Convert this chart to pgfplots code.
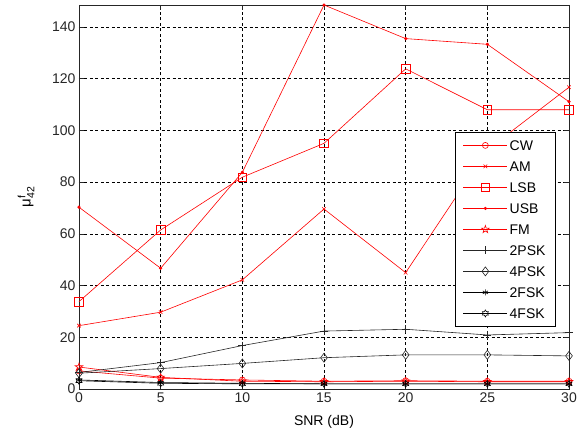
\documentclass[border=0pt]{standalone}
\usepackage{pgfplots}
\pgfplotsset{compat=1.18}
\usepackage{fontspec}
\setmainfont{Liberation Sans}

% outline five-point star
\pgfdeclareplotmark{pentagram}{%
  \pgfpathmoveto{\pgfpointpolar{90}{\pgfplotmarksize}}%
  \pgfpathlineto{\pgfpointpolar{126}{0.382\pgfplotmarksize}}%
  \pgfpathlineto{\pgfpointpolar{162}{\pgfplotmarksize}}%
  \pgfpathlineto{\pgfpointpolar{198}{0.382\pgfplotmarksize}}%
  \pgfpathlineto{\pgfpointpolar{234}{\pgfplotmarksize}}%
  \pgfpathlineto{\pgfpointpolar{270}{0.382\pgfplotmarksize}}%
  \pgfpathlineto{\pgfpointpolar{306}{\pgfplotmarksize}}%
  \pgfpathlineto{\pgfpointpolar{342}{0.382\pgfplotmarksize}}%
  \pgfpathlineto{\pgfpointpolar{18}{\pgfplotmarksize}}%
  \pgfpathlineto{\pgfpointpolar{54}{0.382\pgfplotmarksize}}%
  \pgfpathclose\pgfusepathqstroke}
% outline six-point star
\pgfdeclareplotmark{hexagram}{%
  \pgfpathmoveto{\pgfpointpolar{90}{\pgfplotmarksize}}%
  \pgfpathlineto{\pgfpointpolar{120}{0.577\pgfplotmarksize}}%
  \pgfpathlineto{\pgfpointpolar{150}{\pgfplotmarksize}}%
  \pgfpathlineto{\pgfpointpolar{180}{0.577\pgfplotmarksize}}%
  \pgfpathlineto{\pgfpointpolar{210}{\pgfplotmarksize}}%
  \pgfpathlineto{\pgfpointpolar{240}{0.577\pgfplotmarksize}}%
  \pgfpathlineto{\pgfpointpolar{270}{\pgfplotmarksize}}%
  \pgfpathlineto{\pgfpointpolar{300}{0.577\pgfplotmarksize}}%
  \pgfpathlineto{\pgfpointpolar{330}{\pgfplotmarksize}}%
  \pgfpathlineto{\pgfpointpolar{0}{0.577\pgfplotmarksize}}%
  \pgfpathlineto{\pgfpointpolar{30}{\pgfplotmarksize}}%
  \pgfpathlineto{\pgfpointpolar{60}{0.577\pgfplotmarksize}}%
  \pgfpathclose\pgfusepathqstroke}

\begin{document}
\begin{tikzpicture}
\begin{axis}[
  name=ax,
  scale only axis,
  width=490pt, height=384pt,
  xmin=0, xmax=30, ymin=0, ymax=148.5,
  xtick={0,5,...,30},
  ytick={0,20,...,140},
  tick align=inside,
  tick pos=both,
  major tick length=5pt,
  grid=major,
  major grid style={black, line width=0.5pt, dash pattern=on 3pt off 2.5pt},
  axis line style={black!85, line width=0.6pt},
  tick style={black!85, line width=0.6pt},
  ticklabel style={font=\fontsize{14}{16}\selectfont, text=black!85},
  /pgf/number format/assume math mode=true,
  xlabel={SNR (dB)},
  xlabel style={font=\fontsize{14}{16}\selectfont, at={(axis description cs:0.5,-0.085)}, anchor=center},
  ylabel={μ$^{\mathrm{f}}_{\mathrm{42}}$},
  ylabel style={font=\fontsize{15}{17}\selectfont, at={(axis description cs:-0.108,0.5)}, anchor=center},
  clip=false,
  every axis plot/.append style={line width=0.6pt},
  legend cell align=left,
  legend image code/.code={\draw[mark repeat=2,mark phase=2] plot coordinates {(0pt,0pt) (22pt,0pt) (44pt,0pt)};},
  legend style={at={(0.973,0.669)}, anchor=north east, draw=black, line width=0.6pt, fill=white,
    font=\fontsize{14}{16}\selectfont, row sep=7pt, inner xsep=8pt, inner ysep=6pt,
    nodes={text height=10pt, text depth=0pt, inner sep=2pt}},
]
\addplot[red, mark=o, mark size=3pt] coordinates {(0,7.0) (5,4.2) (10,3.5) (15,3.0) (20,3.2) (25,3.0) (30,3.0)};
\addlegendentry{CW}
\addplot[red, mark=x, mark size=2.5pt] coordinates {(0,24.5) (5,29.7) (10,42.2) (15,69.6) (20,45.0) (25,92.5) (30,116.7)};
\addlegendentry{AM}
\addplot[red, mark=square, mark size=4.3pt] coordinates {(0,33.8) (5,61.5) (10,81.9) (15,95.0) (20,123.8) (25,108.0) (30,108.0)};
\addlegendentry{LSB}
\addplot[red, mark=*, mark size=1.3pt] coordinates {(0,70.3) (5,46.7) (10,83.8) (15,148.5) (20,135.5) (25,133.3) (30,111.1)};
\addlegendentry{USB}
\addplot[red, mark=pentagram, mark size=4pt] coordinates {(0,8.5) (5,4.5) (10,3.0) (15,2.8) (20,3.0) (25,2.8) (30,2.8)};
\addlegendentry{FM}
\addplot[black!85, mark=+, mark size=4pt] coordinates {(0,6.4) (5,10.2) (10,16.8) (15,22.4) (20,23.1) (25,20.9) (30,21.8)};
\addlegendentry{2PSK}
\addplot[black!85, mark=diamond, mark size=4.5pt] coordinates {(0,6.1) (5,7.9) (10,9.9) (15,12.1) (20,13.2) (25,13.2) (30,12.8)};
\addlegendentry{4PSK}
\addplot[black, mark=asterisk, mark size=3pt] coordinates {(0,3.5) (5,2.5) (10,2.2) (15,2.0) (20,2.0) (25,2.0) (30,2.0)};
\addlegendentry{2FSK}
\addplot[black, mark=hexagram, mark size=3.5pt] coordinates {(0,3.2) (5,2.2) (10,2.0) (15,2.0) (20,2.0) (25,2.0) (30,2.0)};
\addlegendentry{4FSK}
\end{axis}
\path ([shift={(-79pt,-47pt)}]ax.south west) rectangle ([shift={(17pt,5pt)}]ax.north east);
\end{tikzpicture}
\end{document}
